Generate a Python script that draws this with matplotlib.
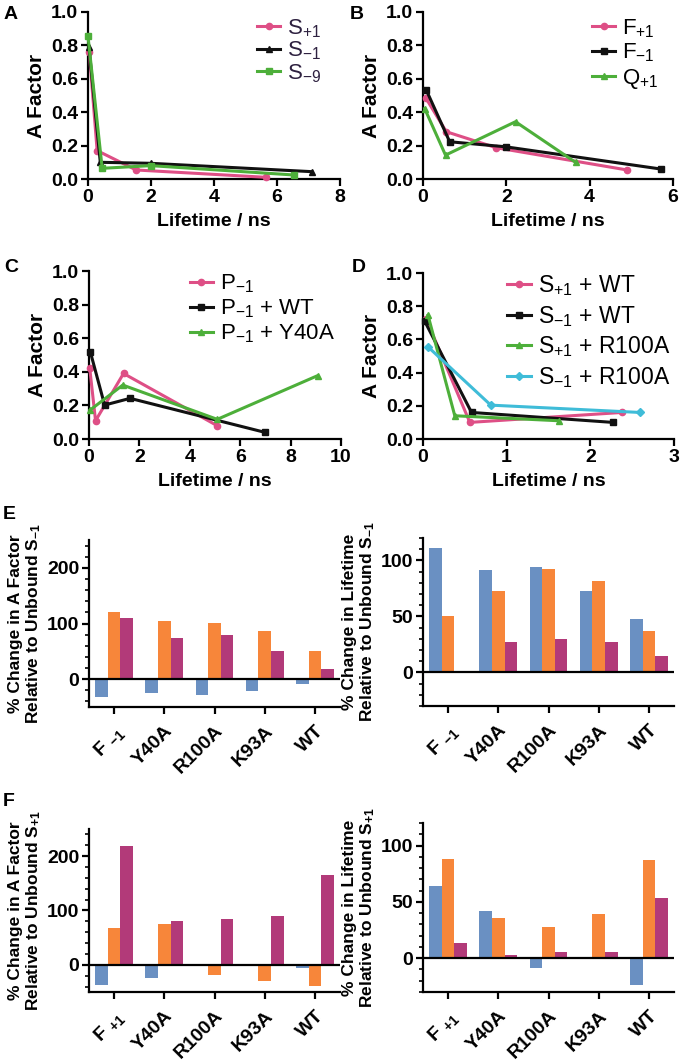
import matplotlib
matplotlib.use("Agg")
import matplotlib.pyplot as plt
from matplotlib.ticker import MultipleLocator, FormatStrFormatter

plt.rcParams['font.family'] = ['Liberation Sans', 'DejaVu Sans']
plt.rcParams['mathtext.fontset'] = 'custom'
plt.rcParams['mathtext.default'] = 'regular'
plt.rcParams['axes.linewidth'] = 1.6

PINK = '#DE4F86'
BLACK = '#111111'
GREEN = '#4DAF3A'
CYAN = '#3FBCD8'
BLUE = '#6A90C2'
ORANGE = '#F7863A'
MAGENTA = '#B23A79'

# ---------------- Panel A ----------------
a_s_p1_x = [0.04, 0.29, 1.53, 5.66]
a_s_p1_y = [0.76, 0.17, 0.054, 0.01]
a_s_m1_x = [0.03, 0.39, 1.99, 7.10]
a_s_m1_y = [0.79, 0.10, 0.094, 0.044]
a_s_m9_x = [0.00, 0.45, 1.99, 6.54]
a_s_m9_y = [0.855, 0.064, 0.08, 0.024]

# ---------------- Panel B ----------------
b_f_p1_x = [0.06, 0.56, 1.76, 4.90]
b_f_p1_y = [0.488, 0.283, 0.187, 0.054]
b_f_m1_x = [0.08, 0.64, 1.98, 5.70]
b_f_m1_y = [0.532, 0.223, 0.193, 0.06]
b_q_p1_x = [0.04, 0.54, 2.22, 3.66]
b_q_p1_y = [0.422, 0.143, 0.343, 0.10]

# ---------------- Panel C ----------------
c_p_x = [0.03, 0.26, 1.37, 5.09]
c_p_y = [0.42, 0.109, 0.39, 0.079]
c_pwt_x = [0.05, 0.62, 1.63, 6.97]
c_pwt_y = [0.52, 0.202, 0.242, 0.04]
c_py40_x = [0.05, 1.34, 5.09, 9.07]
c_py40_y = [0.173, 0.321, 0.117, 0.377]

# ---------------- Panel D ----------------
d_sp1wt_x = [0.04, 0.56, 2.38]
d_sp1wt_y = [0.72, 0.10, 0.16]
d_sm1wt_x = [0.02, 0.58, 2.27]
d_sm1wt_y = [0.71, 0.16, 0.10]
d_sp1r_x = [0.06, 0.38, 1.62]
d_sp1r_y = [0.745, 0.14, 0.11]
d_sm1r_x = [0.06, 0.81, 2.59]
d_sm1r_y = [0.555, 0.204, 0.16]

# ---------------- Bar panels ----------------
e_categories = [r'F $_{-1}$', 'Y40A', 'R100A', 'K93A', 'WT']
f_categories = [r'F $_{+1}$', 'Y40A', 'R100A', 'K93A', 'WT']

e_afac_blue = [-31.5, -25, -28.5, -21.5, -9.5]
e_afac_orange = [121, 104, 101, 86, 50.5]
e_afac_magenta = [110, 74, 80, 50.5, 19]

e_life_blue = [110.8, 91.6, 94, 73, 47.4]
e_life_orange = [50, 72.5, 92.5, 81.5, 37]
e_life_magenta = [0, 27.2, 30.2, 26.8, 14.4]

f_afac_blue = [-36.5, -24, -2, 0, -5]
f_afac_orange = [68, 76, -18, -29, -39]
f_afac_magenta = [219, 81, 84.5, 90, 166]

f_life_blue = [64.4, 42.2, -8.7, 1.5, -23.7]
f_life_orange = [87.7, 35.9, 28.1, 39.5, 87.1]
f_life_magenta = [13.5, 2.4, 5.4, 5.4, 53.6]

W, H = 683, 1064
fig = plt.figure(figsize=(W / 100, H / 100), dpi=100)


def box(l, r, t, b):
    return [l / W, 1 - b / H, (r - l) / W, (b - t) / H]


TICKFS = 14


def style_line_ax(ax, xmax, xstep):
    for s in ['top', 'right']:
        ax.spines[s].set_visible(False)
    ax.set_xlim(0, xmax)
    ax.set_ylim(0, 1.0)
    ax.xaxis.set_major_locator(MultipleLocator(xstep))
    ax.yaxis.set_major_locator(MultipleLocator(0.2))
    ax.yaxis.set_major_formatter(FormatStrFormatter('%.1f'))
    ax.tick_params(direction='out', length=5, width=1.6, labelsize=TICKFS, pad=2)
    for lab in ax.get_xticklabels() + ax.get_yticklabels():
        lab.set_fontweight('bold')
    ax.set_xlabel('Lifetime / ns', fontsize=14, fontweight='bold', labelpad=5)
    ax.set_ylabel('A Factor', fontsize=15, fontweight='bold', labelpad=4)
    for sp in ax.spines.values():
        sp.set_clip_on(False)


def plot_series(ax, x, y, color, marker, label, ms=4.5):
    ax.plot(x, y, color=color, lw=2.2, marker=marker, ms=ms, label=label, clip_on=False, zorder=3)


def add_legend(ax, anchor, fs, spacing):
    return ax.legend(loc='upper left', bbox_to_anchor=anchor, frameon=False, fontsize=fs,
                     handlelength=1.05, handletextpad=0.3, labelspacing=spacing,
                     borderaxespad=0, borderpad=0)


# Panel A
axA = fig.add_axes(box(88, 340, 12, 179))
plot_series(axA, a_s_p1_x, a_s_p1_y, PINK, 'o', r'S$_{+1}$')
plot_series(axA, a_s_m1_x, a_s_m1_y, BLACK, '^', r'S$_{-1}$')
plot_series(axA, a_s_m9_x, a_s_m9_y, GREEN, 's', r'S$_{-9}$')
style_line_ax(axA, 8, 2)
legA = add_legend(axA, (0.67, 0.97), 16, 0.0)
for t in legA.get_texts():
    t.set_color('#2E2140')

# Panel B
axB = fig.add_axes(box(423, 673, 12, 179))
plot_series(axB, b_f_p1_x, b_f_p1_y, PINK, 'o', r'F$_{+1}$')
plot_series(axB, b_f_m1_x, b_f_m1_y, BLACK, 's', r'F$_{-1}$')
plot_series(axB, b_q_p1_x, b_q_p1_y, GREEN, '^', r'Q$_{+1}$')
style_line_ax(axB, 6, 2)
add_legend(axB, (0.676, 0.97), 16, 0.1)

# Panel C
axC = fig.add_axes(box(89, 341, 271, 439))
plot_series(axC, c_p_x, c_p_y, PINK, 'o', r'P$_{-1}$')
plot_series(axC, c_pwt_x, c_pwt_y, BLACK, 's', r'P$_{-1}$ + WT')
plot_series(axC, c_py40_x, c_py40_y, GREEN, '^', r'P$_{-1}$ + Y40A')
style_line_ax(axC, 10, 2)
add_legend(axC, (0.40, 0.99), 16, 0.1)

# Panel D
axD = fig.add_axes(box(423, 674, 273, 439))
plot_series(axD, d_sp1wt_x, d_sp1wt_y, PINK, 'o', r'S$_{+1}$ + WT')
plot_series(axD, d_sm1wt_x, d_sm1wt_y, BLACK, 's', r'S$_{-1}$ + WT')
plot_series(axD, d_sp1r_x, d_sp1r_y, GREEN, '^', r'S$_{+1}$ + R100A')
plot_series(axD, d_sm1r_x, d_sm1r_y, CYAN, 'D', r'S$_{-1}$ + R100A', ms=4)
style_line_ax(axD, 3, 1)
add_legend(axD, (0.335, 1.0), 16.5, 0.25)


def bar_ax(rect, cats, blue, orange, mag, ylim, major, minor, ylabel):
    ax = fig.add_axes(rect)
    xs = list(range(len(cats)))
    w = 0.25
    ax.bar([x - w for x in xs], blue, width=w, color=BLUE)
    ax.bar(xs, orange, width=w, color=ORANGE)
    ax.bar([x + w for x in xs], mag, width=w, color=MAGENTA)
    ax.axhline(0, color='black', lw=1.6, zorder=4)
    for s in ['top', 'right']:
        ax.spines[s].set_visible(False)
    ax.set_xlim(-0.5, 4.5)
    ax.set_ylim(*ylim)
    ax.set_xticks(xs)
    ax.set_xticklabels(cats, rotation=45, ha='right', rotation_mode='anchor',
                       fontsize=14, fontweight='bold')
    ax.yaxis.set_major_locator(MultipleLocator(major))
    ax.yaxis.set_minor_locator(MultipleLocator(minor))
    ax.tick_params(axis='both', which='major', direction='out', length=5, width=1.6,
                   labelsize=TICKFS, pad=2)
    ax.tick_params(axis='x', pad=6)
    ax.tick_params(axis='y', which='minor', direction='out', length=3, width=1.2)
    for lab in ax.get_yticklabels():
        lab.set_fontweight('bold')
    ax.set_ylabel(ylabel, fontsize=12.5, fontweight='bold', labelpad=3, linespacing=1.05)
    return ax


bar_ax(box(89, 340, 540, 707), e_categories, e_afac_blue, e_afac_orange, e_afac_magenta,
       (-50, 250), 100, 20, '% Change in A Factor\nRelative to Unbound S$_{-1}$')
bar_ax(box(423, 674, 538, 706), e_categories, e_life_blue, e_life_orange, e_life_magenta,
       (-30, 120), 50, 10, '% Change in Lifetime\nRelative to Unbound S$_{-1}$')
bar_ax(box(89, 340, 829, 992), f_categories, f_afac_blue, f_afac_orange, f_afac_magenta,
       (-50, 250), 100, 20, '% Change in A Factor\nRelative to Unbound S$_{+1}$')
bar_ax(box(423, 674, 823, 992), f_categories, f_life_blue, f_life_orange, f_life_magenta,
       (-30, 120), 50, 10, '% Change in Lifetime\nRelative to Unbound S$_{+1}$')

# Panel letters
for letter, x, y in [('A', 4, 6), ('B', 350, 6), ('C', 4, 259), ('D', 352, 259),
                     ('E', 3, 506), ('F', 3, 793)]:
    fig.text(x / W, 1 - y / H, letter, fontsize=14, fontweight='bold', va='top', ha='left')

fig.savefig('out.png', dpi=100)
